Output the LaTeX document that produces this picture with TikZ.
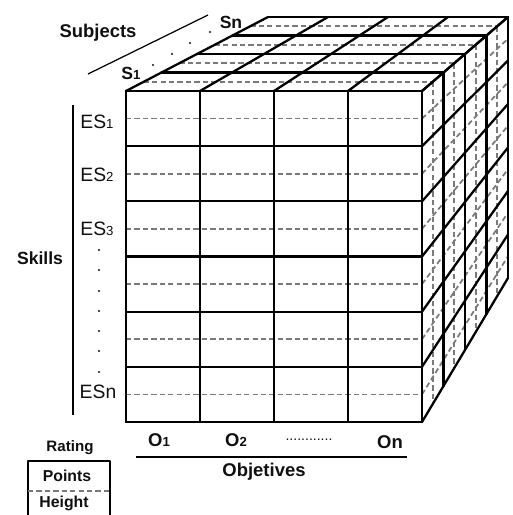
\documentclass[tikz,border=0pt]{standalone}
\usepackage{fontspec}
\setmainfont{Liberation Sans}
\usepackage{xcolor}
\usepackage{tikz}
\usetikzlibrary{calc}
\definecolor{gridblack}{HTML}{000000}
\definecolor{splitgray}{HTML}{7A7A7A}
\definecolor{labeltext}{HTML}{101010}
\newcommand{\idx}[1]{{\fontsize{7.5}{8}\selectfont #1}}
\tikzstyle{cellline} = [draw=gridblack, line width=1.3pt, line join=round, line cap=round]
\tikzstyle{splitline} = [draw=splitgray, line width=1pt, dash pattern=on 3pt off 1.8pt]
\tikzstyle{axisline} = [draw=gridblack, line width=0.7pt]
\tikzstyle{axislabel} = [text=labeltext, font=\fontsize{10.5}{12}\selectfont\bfseries, inner sep=0pt]
\tikzstyle{itemlabel} = [text=labeltext, font=\fontsize{11}{12}\selectfont, inner sep=0pt]
\tikzstyle{keylabel} = [text=labeltext, font=\fontsize{9}{10}\selectfont\bfseries, inner sep=0pt]
\tikzstyle{dotmark} = [fill=labeltext, draw=none]

\begin{document}
\begin{tikzpicture}[x=0.02cm, y=-0.02cm]
    \useasboundingbox (0,0) rectangle (513,515);

    % Cube corners
    \coordinate (FTL) at (126,91);
    \coordinate (FTR) at (422,91);
    \coordinate (FBL) at (126,422);
    \coordinate (FBR) at (422,422);
    \coordinate (BTL) at (268,17);
    \coordinate (BTR) at (508,17);
    \coordinate (BBR) at (508,278);

    % Split lines (Points / Height)
    \foreach \k [evaluate=\k as \t using (\k+0.5)/6] in {0,...,5} {
        \draw[splitline] ($(FTL)!\t!(FBL)$) -- ($(FTR)!\t!(FBR)$);
        \draw[splitline] ($(FTR)!\t!(FBR)$) -- ($(BTR)!\t!(BBR)$);
    }
    \foreach \j [evaluate=\j as \t using (\j+0.5)/4] in {0,...,3} {
        \draw[splitline] ($(FTL)!\t!(BTL)$) -- ($(FTR)!\t!(BTR)$);
        \draw[splitline] ($(FTR)!\t!(BTR)$) -- ($(FBR)!\t!(BBR)$);
    }

    % Front face
    \foreach \k [evaluate=\k as \t using \k/6] in {0,...,6}
        \draw[cellline] ($(FTL)!\t!(FBL)$) -- ($(FTR)!\t!(FBR)$);
    \foreach \i [evaluate=\i as \t using \i/4] in {0,...,4}
        \draw[cellline] ($(FTL)!\t!(FTR)$) -- ($(FBL)!\t!(FBR)$);

    % Top face
    \foreach \j [evaluate=\j as \t using \j/4] in {0,...,4}
        \draw[cellline] ($(FTL)!\t!(BTL)$) -- ($(FTR)!\t!(BTR)$);
    \foreach \i [evaluate=\i as \t using \i/4] in {0,...,4}
        \draw[cellline] ($(FTL)!\t!(FTR)$) -- ($(BTL)!\t!(BTR)$);

    % Right face
    \foreach \j [evaluate=\j as \t using \j/4] in {0,...,4}
        \draw[cellline] ($(FTR)!\t!(BTR)$) -- ($(FBR)!\t!(BBR)$);
    \foreach \k [evaluate=\k as \t using \k/6] in {0,...,6}
        \draw[cellline] ($(FTR)!\t!(FBR)$) -- ($(BTR)!\t!(BBR)$);

    % Subjects
    \node[axislabel] (subjects) at (98,33) {Subjects};
    \coordinate (subjlow) at (88,74);
    \coordinate (subjhigh) at (208,15);
    \draw[axisline] (subjlow) -- (subjhigh);
    \node[keylabel, font=\fontsize{10}{11}\selectfont\bfseries] (s1) at (131,73) {S\idx{1}};
    \node[keylabel, font=\fontsize{10}{11}\selectfont\bfseries] (sn) at (231,22) {Sn};
    \foreach \x/\y in {153/65, 172/54, 190/43, 210/32}
        \fill[dotmark] (\x,\y) circle (1.1);

    % Skills
    \node[axislabel, font=\fontsize{10}{12}\selectfont\bfseries] (skills) at (40,258) {Skills};
    \coordinate (skilltop) at (73,105);
    \coordinate (skillbot) at (73,415);
    \draw[axisline] (skilltop) -- (skillbot);
    \node[itemlabel] (es1) at (97,122) {ES\idx{1}};
    \node[itemlabel] (es2) at (97,175) {ES\idx{2}};
    \node[itemlabel] (es3) at (97,229) {ES\idx{3}};
    \node[itemlabel] (esn) at (98,392) {ESn};
    \foreach \y in {250, 270, 291, 311, 331, 351, 372}
        \fill[dotmark] (99,\y) circle (1.1);

    % Objetives
    \node[axislabel] (o1) at (159,440) {O\idx{1}};
    \node[axislabel] (o2) at (236,440) {O\idx{2}};
    \node[itemlabel, font=\fontsize{8}{9}\selectfont] (odots) at (309,440) {............};
    \node[axislabel] (on) at (390,442) {On};
    \coordinate (objleft) at (136,457);
    \coordinate (objright) at (407,457);
    \draw[axisline] (objleft) -- (objright);
    \node[axislabel] (objetives) at (264,472) {Objetives};

    % Rating key
    \node[keylabel, font=\fontsize{8.6}{10}\selectfont\bfseries] (rating) at (70,448) {Rating};
    \draw[cellline, line cap=butt] (28,516) -- (28,461) -- (110,461) -- (110,516);
    \draw[splitline] (28,491) -- (110,491);
    \node[keylabel] (points) at (67,476) {Points};
    \node[keylabel] (height) at (64,503) {Height};
\end{tikzpicture}
\end{document}
